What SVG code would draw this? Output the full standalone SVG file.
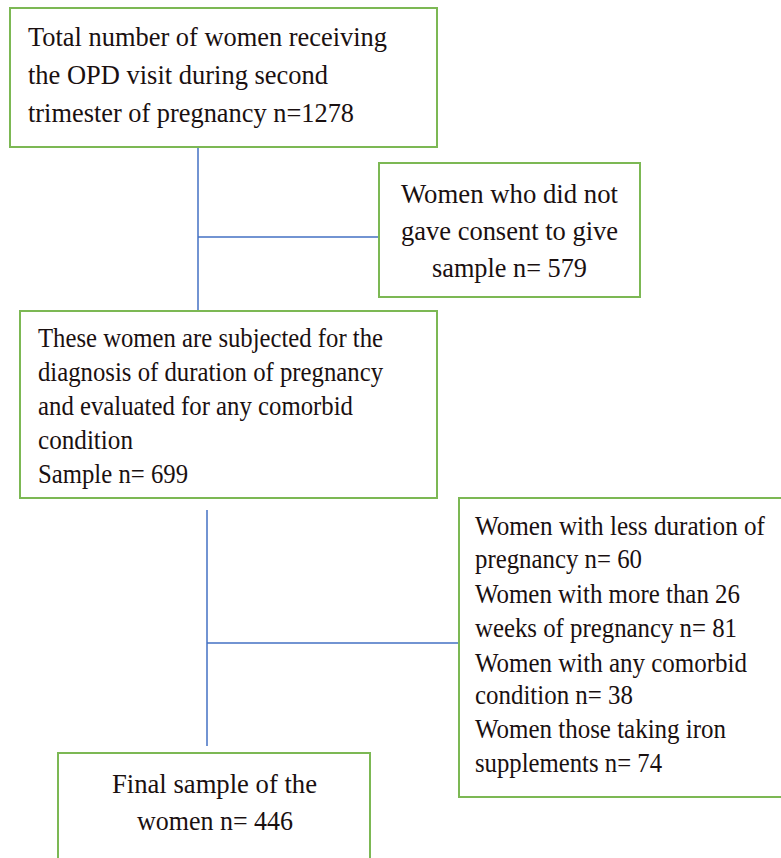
<svg xmlns="http://www.w3.org/2000/svg" width="781" height="858" viewBox="0 0 781 858">
<style>
.box{fill:#fff;stroke:#7cb854;stroke-width:2}
.t{font-family:"Liberation Serif","Times New Roman",serif;font-size:27px;fill:#1a1010}
.c{text-anchor:middle}
.ln{stroke:#4472c4;stroke-width:1.5;fill:none}
</style>
<rect width="781" height="858" fill="#fff"/>
<g id="connectors">
<path class="ln" d="M198 147V311M198 237H379"/>
<path class="ln" d="M207 510V746M207 643H459"/>
</g>
<g id="n1">
<rect class="box" x="10" y="8" width="427" height="139"/>
<text class="t" x="28" y="46" textLength="359" lengthAdjust="spacingAndGlyphs">Total number of women receiving</text>
<text class="t" x="28" y="84" textLength="300" lengthAdjust="spacingAndGlyphs">the OPD visit during second</text>
<text class="t" x="28" y="122" textLength="326" lengthAdjust="spacingAndGlyphs">trimester of pregnancy n=1278</text>
</g>
<g id="n2">
<rect class="box" x="379" y="163" width="261" height="134"/>
<text class="t c" x="509.5" y="203" textLength="217" lengthAdjust="spacingAndGlyphs">Women who did not</text>
<text class="t c" x="509.5" y="240" textLength="217" lengthAdjust="spacingAndGlyphs">gave consent to give</text>
<text class="t c" x="509.5" y="277" textLength="155" lengthAdjust="spacingAndGlyphs">sample n= 579</text>
</g>
<g id="n3">
<rect class="box" x="20" y="311" width="417" height="187"/>
<text class="t" x="38" y="347" textLength="345" lengthAdjust="spacingAndGlyphs">These women are subjected for the</text>
<text class="t" x="38" y="381" textLength="345" lengthAdjust="spacingAndGlyphs">diagnosis of duration of pregnancy</text>
<text class="t" x="38" y="415" textLength="315" lengthAdjust="spacingAndGlyphs">and evaluated for any comorbid</text>
<text class="t" x="38" y="449" textLength="95" lengthAdjust="spacingAndGlyphs">condition</text>
<text class="t" x="38" y="483" textLength="150" lengthAdjust="spacingAndGlyphs">Sample n= 699</text>
</g>
<g id="n4">
<rect class="box" x="459" y="498" width="330" height="299"/>
<text class="t" x="475" y="535" textLength="290" lengthAdjust="spacingAndGlyphs">Women with less duration of</text>
<text class="t" x="475" y="568" textLength="167" lengthAdjust="spacingAndGlyphs">pregnancy n= 60</text>
<text class="t" x="475" y="603" textLength="265" lengthAdjust="spacingAndGlyphs">Women with more than 26</text>
<text class="t" x="475" y="637" textLength="262" lengthAdjust="spacingAndGlyphs">weeks of pregnancy n= 81</text>
<text class="t" x="475" y="672" textLength="272" lengthAdjust="spacingAndGlyphs">Women with any comorbid</text>
<text class="t" x="475" y="704" textLength="158" lengthAdjust="spacingAndGlyphs">condition n= 38</text>
<text class="t" x="475" y="738" textLength="251" lengthAdjust="spacingAndGlyphs">Women those taking iron</text>
<text class="t" x="475" y="772" textLength="187" lengthAdjust="spacingAndGlyphs">supplements n= 74</text>
</g>
<g id="n5">
<rect class="box" x="58" y="753" width="312" height="120"/>
<text class="t c" x="214.5" y="793" textLength="205" lengthAdjust="spacingAndGlyphs">Final sample of the</text>
<text class="t c" x="215" y="830" textLength="156" lengthAdjust="spacingAndGlyphs">women n= 446</text>
</g>
</svg>
